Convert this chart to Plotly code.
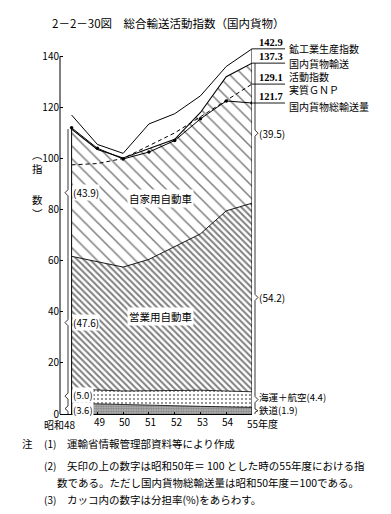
import plotly.graph_objects as go

# ---------------- data ----------------
years = [48, 49, 50, 51, 52, 53, 54, 55]
year_labels = ["昭和48", "49", "50", "51", "52", "53", "54", "55年度"]

mining_index = [117.0, 105.5, 102.0, 113.5, 117.5, 124.5, 136.0, 142.9]     # 鉱工業生産指数
activity_index = [111.5, 103.5, 100.2, 104.0, 107.5, 118.0, 132.0, 137.3]   # 国内貨物輸送活動指数 (top of stack)
real_gnp = [97.5, 98.0, 100.0, 105.0, 110.0, 116.3, 122.8, 129.1]           # 実質GNP
total_volume = [112.0, 104.0, 99.8, 102.5, 107.0, 115.5, 122.5, 121.7]      # 国内貨物総輸送量

# cumulative boundaries of the stacked shares (index units)
rail_top = [4.2, 3.9, 3.6, 3.4, 3.2, 3.0, 2.8, 2.6]                   # 鉄道
sea_air_top = [9.8, 9.4, 9.0, 9.1, 9.2, 9.3, 9.0, 8.7]                # 海運＋航空
business_truck_top = [61.7, 59.6, 57.5, 60.5, 65.5, 70.5, 79.5, 82.5]  # 営業用自動車

share_labels_48 = ["(3.6)", "(5.0)", "(47.6)", "(43.9)"]
share_labels_55 = ["鉄道(1.9)", "海運＋航空(4.4)", "(54.2)", "(39.5)"]
area_names = ["営業用自動車", "自家用自動車"]
index_names = ["鉱工業生産指数", "国内貨物輸送<br>活動指数", "実質ＧＮＰ", "国内貨物総輸送量"]

title_text = "2－2－30図　総合輸送活動指数（国内貨物）"
notes = [
    ("注", "(1)", "運輸省情報管理部資料等により作成"),
    ("", "(2)", "矢印の上の数字は昭和50年＝ 100 とした時の55年度における指"),
    ("", "", "数である。ただし国内貨物総輸送量は昭和50年度＝100である。"),
    ("", "(3)", "カッコ内の数字は分担率(%)をあらわす。"),
]

# ---------------- layout geometry (reference pixel coords) ----------------
OFF = 8                      # page body margin of the browser
REF_W, REF_H = 391, 514
PL, PR, PT, PB = 60, 252, 45, 414    # plot box in reference pixels
W, H = REF_W - OFF, REF_H - OFF
PW, PH = PR - PL, PB - PT
YMAX = 144.4

def px(xp):
    return (xp - PL) / PW

def py(yp):
    return (PB - yp) / PH

FONT = "Noto Sans CJK JP"
NUMFONT = "Liberation Serif"

fig = go.Figure()

# stacked areas
fig.add_trace(go.Scatter(
    x=years, y=rail_top, mode="lines", fill="tozeroy",
    line=dict(color="black", width=0.8),
    fillpattern=dict(shape=".", size=2.5, solidity=0.6, fgcolor="#444", bgcolor="#c0c0c0"),
    hoverinfo="skip"))
fig.add_trace(go.Scatter(
    x=years, y=sea_air_top, mode="lines", fill="tonexty",
    line=dict(color="black", width=0.8),
    fillpattern=dict(shape=".", size=4, solidity=0.22, fgcolor="black", bgcolor="white"),
    hoverinfo="skip"))
fig.add_trace(go.Scatter(
    x=years, y=business_truck_top, mode="lines", fill="tonexty",
    line=dict(color="black", width=0.9),
    fillpattern=dict(shape="\\", size=4.5, solidity=0.45, fgcolor="black", bgcolor="white"),
    hoverinfo="skip"))
fig.add_trace(go.Scatter(
    x=years, y=activity_index, mode="lines", fill="tonexty",
    line=dict(color="black", width=1.1),
    fillpattern=dict(shape="\\", size=9, solidity=0.17, fgcolor="black", bgcolor="white"),
    hoverinfo="skip"))

# index lines
fig.add_trace(go.Scatter(x=years, y=mining_index, mode="lines",
                         line=dict(color="black", width=1.0), hoverinfo="skip"))
fig.add_trace(go.Scatter(x=years, y=real_gnp, mode="lines",
                         line=dict(color="black", width=1.0, dash="4px,3px"), hoverinfo="skip"))
fig.add_trace(go.Scatter(x=years, y=total_volume, mode="lines+markers",
                         line=dict(color="black", width=1.0),
                         marker=dict(size=3.5, color="black"), hoverinfo="skip"))

# vertical edges of the data block
fig.add_trace(go.Scatter(x=[years[0], years[0]], y=[0, max(activity_index[0], total_volume[0])],
                         mode="lines", line=dict(color="black", width=1.0), hoverinfo="skip"))
fig.add_trace(go.Scatter(x=[years[-1], years[-1]], y=[0, mining_index[-1]],
                         mode="lines", line=dict(color="black", width=1.0), hoverinfo="skip"))

shapes = []
annotations = []

# y axis line (0..140)
shapes.append(dict(type="line", xref="paper", yref="y", x0=0, x1=0, y0=0, y1=140,
                   line=dict(color="black", width=1)))

# braces
def brace(xp, y_hi, y_lo, direction):
    x0 = px(xp)
    d = direction * 3.0 / PW
    ym = (y_hi + y_lo) / 2
    dy = min(1.2, (y_hi - y_lo) / 4)
    path = (f"M {x0},{y_hi} L {x0},{ym + dy} L {x0 + d},{ym} "
            f"L {x0},{ym - dy} L {x0},{y_lo}")
    shapes.append(dict(type="path", xref="paper", yref="y", path=path,
                       line=dict(color="black", width=0.8)))
    return ym

bounds48 = [0, rail_top[0], sea_air_top[0], business_truck_top[0], activity_index[0]]
bounds55 = [0, rail_top[-1], sea_air_top[-1], business_truck_top[-1], activity_index[-1]]
left_shift = [-1, 1, 0, 0]
right_shift = [1, 3, 0, 0]

for i in range(4):
    ym = brace(68, bounds48[i + 1], bounds48[i], -1)
    annotations.append(dict(xref="paper", yref="y", x=px(72), y=ym, text=share_labels_48[i],
                            xanchor="left", yanchor="middle", yshift=left_shift[i],
                            showarrow=False, bgcolor="white", borderpad=0,
                            font=dict(family=FONT, size=9.5 if i < 2 else 10, color="black")))
for i in range(4):
    ym = brace(255, bounds55[i + 1], bounds55[i], 1)
    annotations.append(dict(xref="paper", yref="y", x=px(257), y=ym, text=share_labels_55[i],
                            xanchor="left", yanchor="middle", yshift=right_shift[i],
                            showarrow=False,
                            font=dict(family=FONT, size=9.5 if i < 2 else 10, color="black")))

# end-value leaders
end_values = [mining_index[-1], activity_index[-1], real_gnp[-1], total_volume[-1]]
name_shift = [0, 9, -5, -3]
for val, name, ns in zip(end_values, index_names, name_shift):
    shapes.append(dict(type="line", xref="paper", yref="y", x0=1.0, x1=px(285), y0=val, y1=val,
                       line=dict(color="black", width=0.9)))
    annotations.append(dict(xref="paper", yref="y", x=px(271), y=val, text=f"<b>{val:.1f}</b>",
                            xanchor="center", yanchor="bottom", yshift=-1, showarrow=False,
                            font=dict(family=NUMFONT, size=10.5, color="black")))
    two = "<br>" in name
    annotations.append(dict(xref="paper", yref="y", x=px(287), y=val, text=name,
                            xanchor="left", yanchor="top" if two else "middle",
                            yshift=ns, showarrow=False, align="left",
                            font=dict(family=FONT, size=10, color="black")))

# area names
annotations.append(dict(xref="paper", yref="paper", x=px(160), y=py(326), text=area_names[0],
                        showarrow=False, bgcolor="white", borderpad=1,
                        font=dict(family=FONT, size=10.5, color="black")))
annotations.append(dict(xref="paper", yref="paper", x=px(160), y=py(198), text=area_names[1],
                        showarrow=False, bgcolor="white", borderpad=1,
                        font=dict(family=FONT, size=10.5, color="black")))

# x labels
for i, (yr, lab) in enumerate(zip(years, year_labels)):
    if i == 0:
        anchor, shift, yy = "right", 6, 424
    elif i == len(years) - 1:
        anchor, shift, yy = "left", -7, 423
    else:
        anchor, shift, yy = "center", 2, 422
    annotations.append(dict(xref="x", yref="paper", x=yr, y=py(yy), text=lab,
                            xanchor=anchor, yanchor="middle", xshift=shift, showarrow=False,
                            font=dict(family=FONT, size=10, color="black")))

# y axis title
annotations.append(dict(xref="paper", yref="paper", x=px(30), y=py(145), text="︵<br>指",
                        showarrow=False, font=dict(family=FONT, size=10.5, color="black")))
annotations.append(dict(xref="paper", yref="paper", x=px(30), y=py(207), text="数<br>︶",
                        showarrow=False, font=dict(family=FONT, size=10.5, color="black")))

# title
annotations.append(dict(xref="paper", yref="paper", x=px(50), y=py(23), text=title_text,
                        xanchor="left", yanchor="middle", showarrow=False,
                        font=dict(family=FONT, size=11.5, color="black")))

# notes
note_y = [443, 466, 482, 499]
for (a, b, c), yy in zip(notes, note_y):
    if a:
        annotations.append(dict(xref="paper", yref="paper", x=px(20), y=py(yy), text=a,
                                xanchor="left", yanchor="middle", showarrow=False,
                                font=dict(family=FONT, size=10.5, color="black")))
    if b:
        annotations.append(dict(xref="paper", yref="paper", x=px(42), y=py(yy), text=b,
                                xanchor="left", yanchor="middle", showarrow=False,
                                font=dict(family=FONT, size=10, color="black")))
    annotations.append(dict(xref="paper", yref="paper", x=px(65 if b else 55), y=py(yy), text=c,
                            xanchor="left", yanchor="middle", showarrow=False,
                            font=dict(family=FONT, size=10.5, color="black")))

fig.update_layout(
    width=W, height=H,
    margin=dict(l=PL - OFF, r=REF_W - PR, t=PT - OFF, b=REF_H - PB, pad=0),
    paper_bgcolor="white", plot_bgcolor="white",
    showlegend=False,
    shapes=shapes, annotations=annotations,
    xaxis=dict(range=[47.55, 55], tickvals=years, showticklabels=False,
               showline=True, linecolor="black", linewidth=1, mirror=False,
               ticks="inside", ticklen=2, tickcolor="black",
               showgrid=False, zeroline=False),
    yaxis=dict(range=[0, YMAX], tickvals=[0, 20, 40, 60, 80, 100, 120, 140],
               showline=False, ticks="inside", ticklen=3, tickcolor="black",
               showgrid=False, zeroline=False,
               tickfont=dict(family=FONT, size=10, color="black")),
)

fig.write_html("out.html")
